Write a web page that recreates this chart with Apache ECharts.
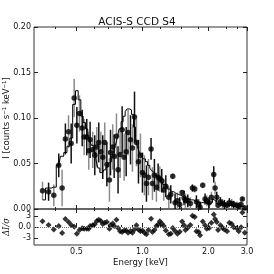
<!DOCTYPE html>
<html>
<head>
<meta charset="utf-8">
<script src="https://cdn.jsdelivr.net/npm/echarts@6/dist/echarts.min.js"></script>
<style>html,body{margin:0;padding:0;background:#fff}#c{width:274px;height:274px}</style>
</head>
<body>
<div id="c"></div>
<script>
const energies = [0.350,0.373,0.394,0.415,0.430,0.445,0.460,0.473,0.488,0.502,
0.516,0.531,0.542,0.557,0.569,0.577,0.593,0.606,0.619,0.632,
0.646,0.659,0.673,0.688,0.707,0.715,0.732,0.743,0.761,0.774,
0.791,0.808,0.825,0.843,0.860,0.882,0.900,0.920,0.939,0.959,
0.979,1.000,1.021,1.043,1.065,1.095,1.111,1.134,1.158,1.179,
1.200,1.225,1.251,1.278,1.319,1.347,1.375,1.409,1.444,1.480,
1.517,1.549,1.571,1.610,1.655,1.691,1.733,1.763,1.807,1.832,
1.884,1.931,1.965,2.014,2.064,2.115,2.145,2.183,2.213,2.269,
2.317,2.366,2.433,2.493,2.556,2.610,2.693,2.751,2.818,2.858,
2.930];
const counts = [0.020,0.019,0.015,0.048,0.023,0.077,0.085,0.072,0.122,0.092,
0.105,0.089,0.079,0.079,0.064,0.076,0.065,0.059,0.068,0.073,
0.063,0.057,0.073,0.049,0.032,0.062,0.068,0.058,0.080,0.043,
0.060,0.087,0.057,0.063,0.084,0.076,0.067,0.101,0.073,0.052,
0.059,0.040,0.037,0.028,0.035,0.066,0.028,0.037,0.024,0.035,
0.033,0.031,0.021,0.025,0.013,0.016,0.036,0.007,0.009,0.005,
0.018,0.012,0.009,0.009,0.006,0.023,0.022,0.008,0.005,0.002,
0.026,0.011,0.009,0.007,0.013,0.038,0.023,0.013,0.004,0.008,
0.006,0.005,0.004,0.007,0.006,0.005,0.004,0.003,0.005,0.011,
0.001];
const errors = [0.010,0.010,0.012,0.013,0.020,0.017,0.018,0.022,0.021,0.020,
0.020,0.020,0.020,0.020,0.021,0.020,0.020,0.022,0.022,0.022,
0.022,0.024,0.022,0.024,0.024,0.025,0.025,0.024,0.025,0.026,
0.026,0.026,0.026,0.027,0.025,0.027,0.026,0.028,0.026,0.024,
0.024,0.022,0.022,0.020,0.020,0.012,0.018,0.018,0.016,0.015,
0.014,0.013,0.012,0.012,0.012,0.010,0.003,0.010,0.009,0.008,
0.003,0.008,0.008,0.007,0.007,0.004,0.004,0.007,0.006,0.006,
0.003,0.006,0.006,0.006,0.006,0.009,0.007,0.006,0.005,0.005,
0.005,0.005,0.005,0.005,0.005,0.004,0.004,0.004,0.004,0.002,
0.003];
const model = [0.010,0.023,0.024,0.048,0.058,0.062,0.069,0.078,0.115,0.130,
0.120,0.102,0.095,0.088,0.080,0.076,0.070,0.062,0.055,0.045,
0.040,0.040,0.043,0.046,0.050,0.052,0.058,0.062,0.070,0.078,
0.088,0.096,0.102,0.107,0.110,0.109,0.104,0.090,0.077,0.068,
0.062,0.058,0.055,0.052,0.048,0.045,0.042,0.040,0.037,0.035,
0.032,0.030,0.027,0.025,0.022,0.020,0.019,0.017,0.016,0.015,
0.014,0.013,0.012,0.011,0.010,0.010,0.009,0.008,0.008,0.007,
0.007,0.007,0.006,0.006,0.007,0.011,0.009,0.006,0.005,0.005,
0.004,0.004,0.004,0.004,0.004,0.003,0.003,0.003,0.003,0.003,
0.003];
const residuals = [1.6,0.56,-0.66,0.28,-1.7,2.2,1.4,0.56,0.1,-1.9,
-0.84,-0.37,-0.47,-0.47,-0.47,0.28,0.47,0.75,1.7,2.0,
1.7,0.84,1.2,1.4,-0.47,0.47,1.0,0.28,2.0,-0.28,
-1.2,-1.4,-0.94,-1.0,-1.6,-1.1,-1.6,-0.66,0.47,-0.66,
-1.2,-1.0,-1.6,-2.0,-0.84,2.3,-1.4,-0.84,0.28,0.66,
1.6,0.94,0.28,-1.0,-2.0,-1.9,-0.28,-1.1,-1.9,-1.3,
1.5,0.47,-0.84,-0.19,0.56,3.1,2.8,-1.2,-1.4,-2.3,
1.5,0.47,-0.47,-0.28,1.2,3.5,2.2,1.4,-0.84,0.47,
-0.19,-0.66,-1.2,1.2,0.84,-0.09,-0.37,-1.2,-0.09,4.0,
-1.6];
const xMajorTicks = [0.5, 1.0, 2.0, 3.0];
const xMinorTicks = [0.4, 0.6, 0.7, 0.8, 0.9, 1.2, 1.5, 1.8, 2.4, 2.7];
const xTickLabels = [0.5, 1.0, 2.0, 3.0];
const resTicks = [-3, 0, 3];

const FONT = 'DejaVu Sans';
const chart = echarts.init(document.getElementById('c'), null, {renderer: 'canvas'});

function xAx(grid, pos, ticks, len, labels, extra) {
  return Object.assign({
    gridIndex: grid, type: 'log', logBase: 10, min: 0.32, max: 3.0, position: pos,
    axisLine: {show: false},
    splitLine: {show: false},
    axisTick: {show: true, inside: true, length: len, customValues: ticks, lineStyle: {color: '#222', width: 1}},
    axisLabel: labels ? {show: true, customValues: labels, formatter: v => Number(v).toFixed(1), fontSize: 8, color: '#111', fontFamily: FONT, margin: 3} : {show: false}
  }, extra || {});
}

const option = {
  animation: false,
  backgroundColor: '#fff',
  title: {text: 'ACIS-S CCD S4', left: 'center', top: 12, textStyle: {fontSize: 10.5, fontWeight: 'normal', color: '#111', fontFamily: FONT}},
  grid: [
    {left: 34, top: 27, width: 213, height: 182, show: true, borderColor: '#333', borderWidth: 1, containLabel: false, outerBoundsMode: 'none'},
    {left: 34, top: 209, width: 213, height: 36, show: true, borderColor: '#333', borderWidth: 1, containLabel: false, outerBoundsMode: 'none'}
  ],
  xAxis: [
    xAx(0, 'bottom', xMajorTicks, 4, null),
    xAx(0, 'bottom', xMinorTicks, 2, null),
    xAx(0, 'top', xMajorTicks, 4, null),
    xAx(0, 'top', xMinorTicks, 2, null),
    xAx(1, 'bottom', xMajorTicks, 4, xTickLabels, {name: 'Energy [keV]', nameLocation: 'middle', nameGap: 13, nameMoveOverlap: false, nameTextStyle: {fontSize: 8.5, color: '#111', fontFamily: FONT}}),
    xAx(1, 'bottom', xMinorTicks, 2, null),
    xAx(1, 'top', xMajorTicks, 4, null),
    xAx(1, 'top', xMinorTicks, 2, null)
  ],
  yAxis: [
    {gridIndex: 0, type: 'value', min: 0, max: 0.2, interval: 0.05, position: 'left',
     axisLine: {show: false}, splitLine: {show: false},
     axisTick: {inside: true, length: 4, lineStyle: {color: '#222'}},
     axisLabel: {formatter: v => v.toFixed(2), fontSize: 8, color: '#111', fontFamily: FONT, margin: 3},
     name: 'I [counts s\u207B\u00B9 keV\u207B\u00B9]', nameLocation: 'middle', nameGap: 23, nameRotate: 90, nameMoveOverlap: false,
     nameTextStyle: {fontSize: 8.5, color: '#111', fontFamily: FONT}},
    {gridIndex: 0, type: 'value', min: 0, max: 0.2, interval: 0.05, position: 'right',
     axisLine: {show: false}, splitLine: {show: false},
     axisTick: {inside: true, length: 4, lineStyle: {color: '#222'}}, axisLabel: {show: false}},
    {gridIndex: 1, type: 'value', min: -5, max: 5, position: 'left',
     axisLine: {show: false}, splitLine: {show: false},
     axisTick: {inside: true, length: 4, customValues: resTicks, lineStyle: {color: '#222'}},
     axisLabel: {customValues: resTicks, formatter: v => (v === 0 ? '0.0' : String(v)), fontSize: 8, color: '#111', fontFamily: FONT, margin: 3},
     name: '\u0394I/\u03C3', nameLocation: 'middle', nameGap: 23, nameRotate: 90, nameMoveOverlap: false,
     nameTextStyle: {fontSize: 8.5, color: '#111', fontFamily: 'DejaVu Serif', fontStyle: 'italic'}},
    {gridIndex: 1, type: 'value', min: -5, max: 5, position: 'right',
     axisLine: {show: false}, splitLine: {show: false},
     axisTick: {inside: true, length: 4, customValues: resTicks, lineStyle: {color: '#222'}}, axisLabel: {show: false}}
  ],
  series: [
    {type: 'custom', xAxisIndex: 0, yAxisIndex: 0, clip: true,
     data: energies.map((e, i) => [e, counts[i], errors[i]]),
     renderItem: function (params, api) {
       const x = api.value(0), y = api.value(1), e = api.value(2);
       const p1 = api.coord([x, Math.max(y - e, 0)]);
       const p2 = api.coord([x, y + e]);
       return {type: 'line', shape: {x1: p1[0], y1: p1[1], x2: p2[0], y2: p2[1]},
               style: {stroke: params.dataIndex % 2 ? '#111' : '#8c8c8c', lineWidth: 1.5}};
     }, z: 2},
    {type: 'line', xAxisIndex: 0, yAxisIndex: 0, step: 'middle', showSymbol: false,
     data: energies.map((e, i) => [e, model[i]]),
     lineStyle: {color: '#000', width: 1}, z: 3},
    {type: 'scatter', xAxisIndex: 0, yAxisIndex: 0, symbol: 'circle', symbolSize: 5.5,
     data: energies.map((e, i) => [e, counts[i]]),
     itemStyle: {color: '#000'}, z: 4},
    {type: 'scatter', xAxisIndex: 4, yAxisIndex: 2, symbol: 'diamond', symbolSize: 6,
     data: energies.map((e, i) => [e, residuals[i]]),
     itemStyle: {color: '#000'}, z: 4,
     markLine: {silent: true, symbol: 'none', label: {show: false},
                lineStyle: {type: 'dotted', color: '#777', width: 1},
                data: [{yAxis: 0}]}}
  ]
};
chart.setOption(option);
</script>
</body>
</html>
